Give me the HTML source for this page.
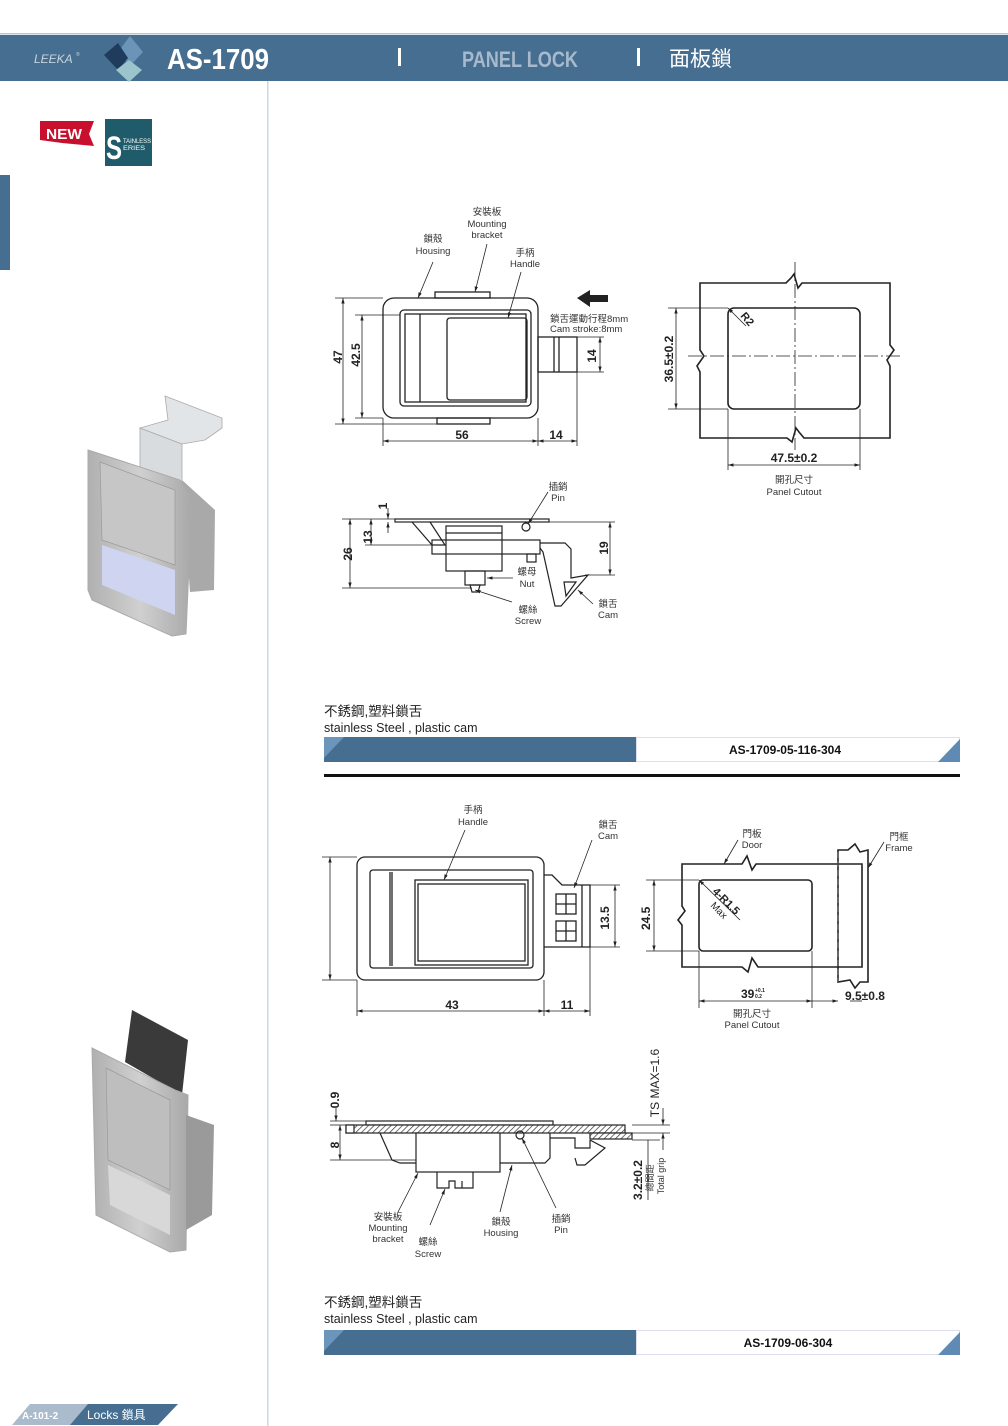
<!DOCTYPE html>
<html><head><meta charset="utf-8"><style>
html,body{margin:0;padding:0;background:#fff}
svg{display:block}
text{font-family:"Liberation Sans","Noto Sans CJK TC",sans-serif}
</style></head><body>
<svg width="1008" height="1426" viewBox="0 0 1008 1426" xmlns="http://www.w3.org/2000/svg">
<defs>
<pattern id="h" width="4" height="4" patternUnits="userSpaceOnUse" patternTransform="rotate(45)"><rect width="4" height="4" fill="#fff"/><line x1="0" y1="0" x2="0" y2="4" stroke="#333" stroke-width="1.4"/></pattern>
<linearGradient id="m" x1="0" y1="0" x2="1" y2="1"><stop offset="0" stop-color="#e6e6e6"/><stop offset=".5" stop-color="#b8b8b8"/><stop offset="1" stop-color="#d8d8d8"/></linearGradient>
<linearGradient id="m2" x1="0" y1="0" x2="1" y2="0"><stop offset="0" stop-color="#b0b0b0"/><stop offset=".5" stop-color="#d0d0d0"/><stop offset="1" stop-color="#a8a8a8"/></linearGradient>
<marker id="a" viewBox="0 0 10 10" refX="10" refY="5" markerWidth="7" markerHeight="7" orient="auto-start-reverse"><path d="M0,2 L10,5 L0,8z" fill="#222"/></marker>
</defs>
<!-- header -->
<rect x="0" y="33" width="1008" height="1.5" fill="#b9c7d4"/>
<rect x="0" y="35" width="1008" height="46" fill="#456e91"/>
<text x="34" y="63" font-size="12" font-style="italic" fill="#c8d4de">LEEKA</text>
<text x="76" y="56" font-size="5" fill="#c8d4de">®</text>
<path d="M130,36 L143,52 L130,66 L118,52z" fill="#6a94b8"/>
<path d="M104,55 L118,43 L128,58 L118,70z" fill="#1f3c5c"/>
<path d="M129,60 L142,70 L129,82 L116,70z" fill="#9cc4cc"/>
<text x="167" y="69" font-size="29" font-weight="bold" fill="#fff" textLength="102" lengthAdjust="spacingAndGlyphs">AS-1709</text>
<rect x="398" y="48" width="3" height="18" fill="#fff"/>
<text x="462" y="67" font-size="22" font-weight="bold" fill="#a7b9cc" textLength="116" lengthAdjust="spacingAndGlyphs">PANEL LOCK</text>
<rect x="637" y="48" width="3" height="18" fill="#fff"/>
<text x="669" y="66" font-size="21" fill="#fff">面板鎖</text>
<!-- left column -->
<rect x="267" y="81" width="1.5" height="1345" fill="#cfd8e0"/>
<rect x="0" y="175" width="10" height="95" fill="#456e91"/>
<path d="M40,121 L94,121 L89,134 L94,146 L62,143 L40,140z" fill="#c8102e"/>
<text x="46" y="139" font-size="15" font-weight="bold" fill="#fff" textLength="36" lengthAdjust="spacingAndGlyphs">NEW</text>
<rect x="105" y="119" width="47" height="47" fill="#1f5b6b"/>
<text x="106" y="159" font-size="32" font-weight="bold" fill="#fff" textLength="16" lengthAdjust="spacingAndGlyphs">S</text>
<text x="123" y="143" font-size="6.5" fill="#fff" textLength="28" lengthAdjust="spacingAndGlyphs">TAINLESS</text>
<text x="123" y="150" font-size="6.5" fill="#fff" textLength="22" lengthAdjust="spacingAndGlyphs">ERIES</text>
<!-- photo 1 -->
<path d="M140,428 L182,444 L182,492 L140,476z" fill="#d8dcdf" stroke="#aaa" stroke-width=".8"/>
<path d="M165,396 L222,418 L222,428 L205,440 L182,444 L140,428 L168,420z" fill="#e2e5e8" stroke="#aaa" stroke-width=".8"/>
<path d="M182,480 L215,510 L214,590 L190,592z" fill="#a9a9a9"/>
<path d="M88,450 L180,480 L192,498 L186,634 L172,636 L92,600 L88,590z" fill="url(#m2)" stroke="#aaa"/>
<path d="M100,462 L175,490 L175,565 L102,540z" fill="#c6c6c6" stroke="#999" stroke-width=".7"/>
<path d="M102,545 L175,570 L175,615 L102,585z" fill="#cfd4f0"/>
<!-- photo 2 -->
<path d="M132,1010 L188,1040 L182,1095 L125,1062z" fill="#3a3a3a"/>
<path d="M92,1048 L175,1090 L188,1095 L186,1250 L170,1252 L96,1215z" fill="url(#m2)" stroke="#aaa"/>
<path d="M186,1115 L214,1125 L212,1215 L186,1230z" fill="#9a9a9a"/>
<path d="M106,1068 L170,1100 L170,1190 L108,1160z" fill="#bebebe" stroke="#999" stroke-width=".7"/>
<path d="M108,1165 L170,1195 L170,1235 L110,1205z" fill="#d8d8d8"/>
<!-- footer -->
<path d="M12,1425 L30,1404 L100,1404 L82,1425z" fill="#a9bbcc"/>
<path d="M70,1425 L88,1404 L178,1404 L158,1425z" fill="#456e91"/>
<text x="22" y="1419" font-size="10" font-weight="bold" fill="#fff">A-101-2</text>
<text x="87" y="1419" font-size="12" fill="#fff">Locks 鎖具</text>

<g fill="none" stroke="#222" stroke-width="1.3">
<!-- drawing 1 front -->
<rect x="383" y="298" width="155" height="120" rx="11"/>
<rect x="400" y="310" width="131" height="96" rx="4"/>
<rect x="405" y="314" width="121" height="88"/>
<line x1="420" y1="314" x2="420" y2="402"/>
<rect x="447" y="318" width="80" height="82" rx="3"/>
<rect x="435" y="292" width="55" height="6"/>
<rect x="437" y="418" width="53" height="6"/>
<rect x="538" y="337" width="39" height="35"/>
<line x1="554" y1="337" x2="554" y2="372"/><line x1="559" y1="337" x2="559" y2="372"/>
</g>
<g stroke="#222" stroke-width=".8" fill="none">
<line x1="335" y1="298" x2="383" y2="298"/><line x1="335" y1="424" x2="437" y2="424"/>
<line x1="343" y1="298" x2="343" y2="424" marker-start="url(#a)" marker-end="url(#a)"/>
<line x1="355" y1="315" x2="400" y2="315"/><line x1="355" y1="418" x2="383" y2="418"/>
<line x1="362" y1="315" x2="362" y2="418" marker-start="url(#a)" marker-end="url(#a)"/>
<line x1="383" y1="418" x2="383" y2="446"/><line x1="538" y1="418" x2="538" y2="446"/><line x1="577" y1="372" x2="577" y2="446"/>
<line x1="383" y1="441" x2="538" y2="441" marker-start="url(#a)" marker-end="url(#a)"/>
<line x1="538" y1="441" x2="577" y2="441" marker-start="url(#a)" marker-end="url(#a)"/>
<line x1="577" y1="337" x2="604" y2="337"/><line x1="577" y1="372" x2="604" y2="372"/>
<line x1="600" y1="337" x2="600" y2="372" marker-start="url(#a)" marker-end="url(#a)"/>
<line x1="433" y1="262" x2="418" y2="298" marker-end="url(#a)"/>
<line x1="487" y1="244" x2="475" y2="292" marker-end="url(#a)"/>
<line x1="521" y1="272" x2="508" y2="318" marker-end="url(#a)"/>
</g>
<path d="M577,298 L590,290 L590,295 L608,295 L608,302 L590,302 L590,307z" fill="#222"/>
<g font-size="9.5" fill="#333" text-anchor="middle">
<text x="487" y="215">安裝板</text><text x="487" y="227">Mounting</text><text x="487" y="238">bracket</text>
<text x="433" y="242">鎖殼</text><text x="433" y="254">Housing</text>
<text x="525" y="256">手柄</text><text x="525" y="267">Handle</text>
<text x="550" y="322" text-anchor="start">鎖舌運動行程8mm</text><text x="550" y="332" text-anchor="start">Cam stroke:8mm</text>
</g>
<g font-size="12" font-weight="bold" fill="#222">
<text x="462" y="439" text-anchor="middle">56</text><text x="556" y="439" text-anchor="middle">14</text>
<text transform="translate(342,357) rotate(-90)" text-anchor="middle">47</text>
<text transform="translate(360,355) rotate(-90)" text-anchor="middle">42.5</text>
<text transform="translate(596,356) rotate(-90)" text-anchor="middle">14</text>
</g>
<!-- cutout 1 -->
<g fill="none" stroke="#222" stroke-width="1.6">
<path d="M700,283 L786,283 L791,278 L794,274 L798,288 L802,283 L890,283 L890,345 L894,350 L887,360 L890,366 L890,438 L804,438 L799,432 L796,428 L792,442 L787,438 L700,438 L700,372 L697,366 L704,356 L700,350z"/>
<rect x="728" y="308" width="132" height="101" rx="6"/>
</g>
<g stroke="#222" stroke-width=".8" fill="none">
<line x1="795" y1="262" x2="795" y2="450" stroke-dasharray="14,3,2,3"/>
<line x1="688" y1="356" x2="902" y2="356" stroke-dasharray="14,3,2,3"/>
<line x1="668" y1="308" x2="728" y2="308"/><line x1="668" y1="409" x2="728" y2="409"/>
<line x1="676" y1="308" x2="676" y2="409" marker-start="url(#a)" marker-end="url(#a)"/>
<line x1="728" y1="409" x2="728" y2="470"/><line x1="860" y1="409" x2="860" y2="470"/>
<line x1="728" y1="465" x2="860" y2="465" marker-start="url(#a)" marker-end="url(#a)"/>
<line x1="728" y1="308" x2="746" y2="326" marker-start="url(#a)"/>
</g>
<g font-size="12" font-weight="bold" fill="#222">
<text x="794" y="462" text-anchor="middle">47.5±0.2</text>
<text transform="translate(673,359) rotate(-90)" text-anchor="middle">36.5±0.2</text>
<text transform="translate(740,316) rotate(50)" font-size="11">R2</text>
</g>
<g font-size="9.5" fill="#333" text-anchor="middle"><text x="794" y="483">開孔尺寸</text><text x="794" y="495">Panel Cutout</text></g>
<!-- side 1 -->
<g fill="none" stroke="#222" stroke-width="1.2">
<rect x="395" y="519" width="154" height="3"/>
<path d="M412,522 L432,545 L445,545 L430,522"/>
<rect x="432" y="540" width="108" height="14"/>
<rect x="446" y="526" width="56" height="45"/>
<line x1="446" y1="533" x2="502" y2="533"/>
<rect x="465" y="571" width="20" height="14"/>
<path d="M470,585 L480,585 L478,592 L472,592z"/>
<circle cx="526" cy="527" r="4"/>
<path d="M540,543 L565,543 L571,549 L571,578 L588,575 L561,606 L555,606 L543,552 L540,548"/>
<path d="M564,582 L576,582 L566,596z"/>
<rect x="527" y="554" width="9" height="8"/>
</g>
<g stroke="#222" stroke-width=".8" fill="none">
<line x1="342" y1="519" x2="395" y2="519"/><line x1="342" y1="588" x2="472" y2="588"/>
<line x1="350" y1="519" x2="350" y2="588" marker-start="url(#a)" marker-end="url(#a)"/>
<line x1="365" y1="545" x2="432" y2="545"/>
<line x1="371" y1="519" x2="371" y2="545" marker-start="url(#a)" marker-end="url(#a)"/>
<line x1="388" y1="508" x2="388" y2="519" marker-end="url(#a)"/><line x1="388" y1="533" x2="388" y2="522" marker-end="url(#a)"/>
<line x1="549" y1="522" x2="615" y2="522"/><line x1="585" y1="575" x2="615" y2="575"/>
<line x1="610" y1="522" x2="610" y2="575" marker-start="url(#a)" marker-end="url(#a)"/>
<line x1="548" y1="492" x2="528" y2="524" marker-end="url(#a)"/>
<line x1="513" y1="578" x2="487" y2="578" marker-end="url(#a)"/>
<line x1="512" y1="602" x2="475" y2="590" marker-end="url(#a)"/>
<line x1="593" y1="604" x2="578" y2="590" marker-end="url(#a)"/>
</g>
<g font-size="12" font-weight="bold" fill="#222" text-anchor="middle">
<text transform="translate(352,554) rotate(-90)">26</text>
<text transform="translate(372,537) rotate(-90)">13</text>
<text transform="translate(387,506) rotate(-90)">1</text>
<text transform="translate(608,548) rotate(-90)">19</text>
</g>
<g font-size="9.5" fill="#333" text-anchor="middle">
<text x="558" y="490">插銷</text><text x="558" y="501">Pin</text>
<text x="527" y="575">螺母</text><text x="527" y="587">Nut</text>
<text x="528" y="613">螺絲</text><text x="528" y="624">Screw</text>
<text x="608" y="607">鎖舌</text><text x="608" y="618">Cam</text>
</g>
<!-- section title 1 -->
<text x="324" y="716" font-size="13.5" fill="#222">不銹鋼,塑料鎖舌</text>
<text x="324" y="732" font-size="12.5" fill="#222">stainless Steel , plastic cam</text>
<rect x="324" y="737" width="312" height="25" fill="#456e91"/>
<path d="M324,737 L344,737 L324,758z" fill="#6b95bb"/>
<rect x="636.5" y="737.5" width="323" height="24" fill="#fff" stroke="#dde" stroke-width="1"/>
<path d="M960,739 L960,762 L938,762z" fill="#5f8ab3"/>
<text x="785" y="754" font-size="12" font-weight="bold" fill="#111" text-anchor="middle">AS-1709-05-116-304</text>
<rect x="324" y="774" width="636" height="3" fill="#111"/>
<!-- drawing 2 front -->
<g fill="none" stroke="#222" stroke-width="1.3">
<rect x="357" y="857" width="187" height="123" rx="8"/>
<rect x="370" y="870" width="163" height="98" rx="3"/>
<line x1="390" y1="872" x2="390" y2="966"/><line x1="392" y1="872" x2="392" y2="966"/>
<rect x="415" y="880" width="113" height="85"/>
<rect x="418" y="884" width="107" height="77"/>
<path d="M544,875 L552,875 L562,885 L590,885 L590,947 L544,947"/>
<rect x="556" y="894" width="20" height="20"/><rect x="556" y="921" width="20" height="20"/>
<line x1="566" y1="894" x2="566" y2="914"/><line x1="556" y1="904" x2="576" y2="904"/>
<line x1="566" y1="921" x2="566" y2="941"/><line x1="556" y1="931" x2="576" y2="931"/>
<line x1="582" y1="885" x2="582" y2="947"/>
</g>
<g stroke="#222" stroke-width=".8" fill="none">
<line x1="322" y1="857" x2="357" y2="857"/><line x1="322" y1="980" x2="357" y2="980"/>
<line x1="330" y1="857" x2="330" y2="980" marker-start="url(#a)" marker-end="url(#a)"/>
<line x1="357" y1="980" x2="357" y2="1016"/><line x1="544" y1="980" x2="544" y2="1016"/><line x1="590" y1="947" x2="590" y2="1016"/>
<line x1="357" y1="1011" x2="544" y2="1011" marker-start="url(#a)" marker-end="url(#a)"/>
<line x1="544" y1="1011" x2="590" y2="1011" marker-start="url(#a)" marker-end="url(#a)"/>
<line x1="590" y1="885" x2="620" y2="885"/><line x1="590" y1="947" x2="620" y2="947"/>
<line x1="615" y1="885" x2="615" y2="947" marker-start="url(#a)" marker-end="url(#a)"/>
<line x1="465" y1="830" x2="444" y2="880" marker-end="url(#a)"/>
<line x1="592" y1="840" x2="574" y2="888" marker-end="url(#a)"/>
</g>
<g font-size="12" font-weight="bold" fill="#222" text-anchor="middle">
<text x="452" y="1009">43</text><text x="567" y="1009">11</text>
<text transform="translate(609,918) rotate(-90)">13.5</text>
</g>
<g font-size="9.5" fill="#333" text-anchor="middle">
<text x="473" y="813">手柄</text><text x="473" y="825">Handle</text>
<text x="608" y="828">鎖舌</text><text x="608" y="839">Cam</text>
</g>
<!-- cutout 2 -->
<g fill="none" stroke="#222" stroke-width="1.6">
<path d="M682,864 L742,864 L747,856 L752,870 L756,864 L862,864 L862,967 L758,967 L752,958 L748,972 L742,967 L682,967 L682,925 L678,920 L685,911 L682,906z"/>
<rect x="699" y="880" width="113" height="71" rx="4"/>
<path d="M838,850 L848,850 L855,844 L860,852 L868,850 L868,982 L860,982 L855,988 L850,980 L838,982z"/>
</g>
<g stroke="#222" stroke-width=".8" fill="none">
<line x1="838" y1="852" x2="838" y2="982" stroke-dasharray="6,3" stroke="#666"/>
<line x1="646" y1="880" x2="699" y2="880"/><line x1="646" y1="951" x2="699" y2="951"/>
<line x1="654" y1="880" x2="654" y2="951" marker-start="url(#a)" marker-end="url(#a)"/>
<line x1="699" y1="951" x2="699" y2="1008"/><line x1="812" y1="951" x2="812" y2="1008"/>
<line x1="699" y1="1001" x2="812" y2="1001" marker-start="url(#a)" marker-end="url(#a)"/>
<line x1="812" y1="1001" x2="838" y2="1001" marker-end="url(#a)"/><line x1="862" y1="1001" x2="850" y2="1001"/>
<line x1="699" y1="880" x2="740" y2="920" marker-start="url(#a)"/>
<line x1="738" y1="840" x2="724" y2="864" marker-end="url(#a)"/>
<line x1="884" y1="842" x2="868" y2="868" marker-end="url(#a)"/>
</g>
<g font-size="12" font-weight="bold" fill="#222">
<text x="741" y="998">39</text><text x="755" y="992" font-size="5">+0.1</text><text x="755" y="998" font-size="5">0.2</text>
<text x="845" y="1000">9.5±0.8</text>
<text transform="translate(650,930) rotate(-90)">24.5</text>
<text transform="translate(712,892) rotate(45)" font-size="11">4-R1.5</text>
<text transform="translate(710,906) rotate(45)" font-size="10" font-weight="normal">Max</text>
</g>
<g font-size="9.5" fill="#333" text-anchor="middle">
<text x="752" y="837">門板</text><text x="752" y="848">Door</text>
<text x="899" y="840">門框</text><text x="899" y="851">Frame</text>
<text x="752" y="1017">開孔尺寸</text><text x="752" y="1028">Panel Cutout</text>
</g>
<!-- side 2 -->
<g fill="none" stroke="#222" stroke-width="1.2">
<rect x="366" y="1121" width="187" height="4"/>
<rect x="346" y="1125" width="279" height="8" fill="url(#h)"/>
<rect x="346" y="1125" width="8" height="8" fill="#fff"/>
<rect x="590" y="1133" width="42" height="6" fill="url(#h)"/>
<path d="M380,1133 L392,1160 L400,1163 L545,1163 L550,1158 L550,1133"/>
<path d="M550,1138 L575,1138 L575,1148 L590,1148 L590,1140"/>
<path d="M590,1140 L605,1148 L585,1165 L577,1165 L575,1158"/>
<rect x="416" y="1133" width="84" height="39" fill="#fff"/>
<path d="M437,1172 L437,1188 L449,1188 L449,1181 L455,1181 L455,1188 L473,1188 L473,1172"/>
<line x1="462" y1="1181" x2="462" y2="1188"/>
<circle cx="520" cy="1135" r="4"/>
</g>
<g stroke="#222" stroke-width=".8" fill="none">
<line x1="330" y1="1121" x2="366" y2="1121"/><line x1="330" y1="1125" x2="346" y2="1125"/>
<line x1="336" y1="1108" x2="336" y2="1121" marker-end="url(#a)"/>
<line x1="330" y1="1160" x2="416" y2="1160"/>
<line x1="340" y1="1125" x2="340" y2="1160" marker-start="url(#a)" marker-end="url(#a)"/>
<line x1="632" y1="1125" x2="670" y2="1125"/><line x1="632" y1="1133" x2="670" y2="1133"/><line x1="632" y1="1140" x2="660" y2="1140"/>
<line x1="663" y1="1108" x2="663" y2="1125" marker-end="url(#a)"/><line x1="663" y1="1150" x2="663" y2="1133" marker-end="url(#a)"/>
<line x1="648" y1="1140" x2="648" y2="1200"/>
<line x1="430" y1="1225" x2="445" y2="1189" marker-end="url(#a)"/>
<line x1="398" y1="1212" x2="418" y2="1173" marker-end="url(#a)"/>
<line x1="500" y1="1212" x2="512" y2="1165" marker-end="url(#a)"/>
<line x1="556" y1="1208" x2="522" y2="1138" marker-end="url(#a)"/>
</g>
<g font-size="12" font-weight="bold" fill="#222" text-anchor="middle">
<text transform="translate(339,1100) rotate(-90)">0.9</text>
<text transform="translate(339,1145) rotate(-90)">8</text>
<text transform="translate(659,1083) rotate(-90)" font-weight="normal">TS MAX=1.6</text>
<text transform="translate(642,1180) rotate(-90)">3.2±0.2</text>
</g>
<g font-size="9" fill="#333" text-anchor="middle">
<text transform="translate(653,1178) rotate(-90)">總間距</text>
<text transform="translate(664,1176) rotate(-90)">Total grip</text>
</g>
<g font-size="9.5" fill="#333" text-anchor="middle">
<text x="388" y="1220">安裝板</text><text x="388" y="1231">Mounting</text><text x="388" y="1242">bracket</text>
<text x="428" y="1245">螺絲</text><text x="428" y="1257">Screw</text>
<text x="501" y="1225">鎖殼</text><text x="501" y="1236">Housing</text>
<text x="561" y="1222">插銷</text><text x="561" y="1233">Pin</text>
</g>
<!-- section title 2 -->
<text x="324" y="1307" font-size="13.5" fill="#222">不銹鋼,塑料鎖舌</text>
<text x="324" y="1323" font-size="12.5" fill="#222">stainless Steel , plastic cam</text>
<rect x="324" y="1330" width="312" height="25" fill="#456e91"/>
<path d="M324,1330 L344,1330 L324,1351z" fill="#6b95bb"/>
<rect x="636.5" y="1330.5" width="323" height="24" fill="#fff" stroke="#dde" stroke-width="1"/>
<path d="M960,1332 L960,1355 L938,1355z" fill="#5f8ab3"/>
<text x="788" y="1347" font-size="12" font-weight="bold" fill="#111" text-anchor="middle">AS-1709-06-304</text>
</svg>
</body></html>
